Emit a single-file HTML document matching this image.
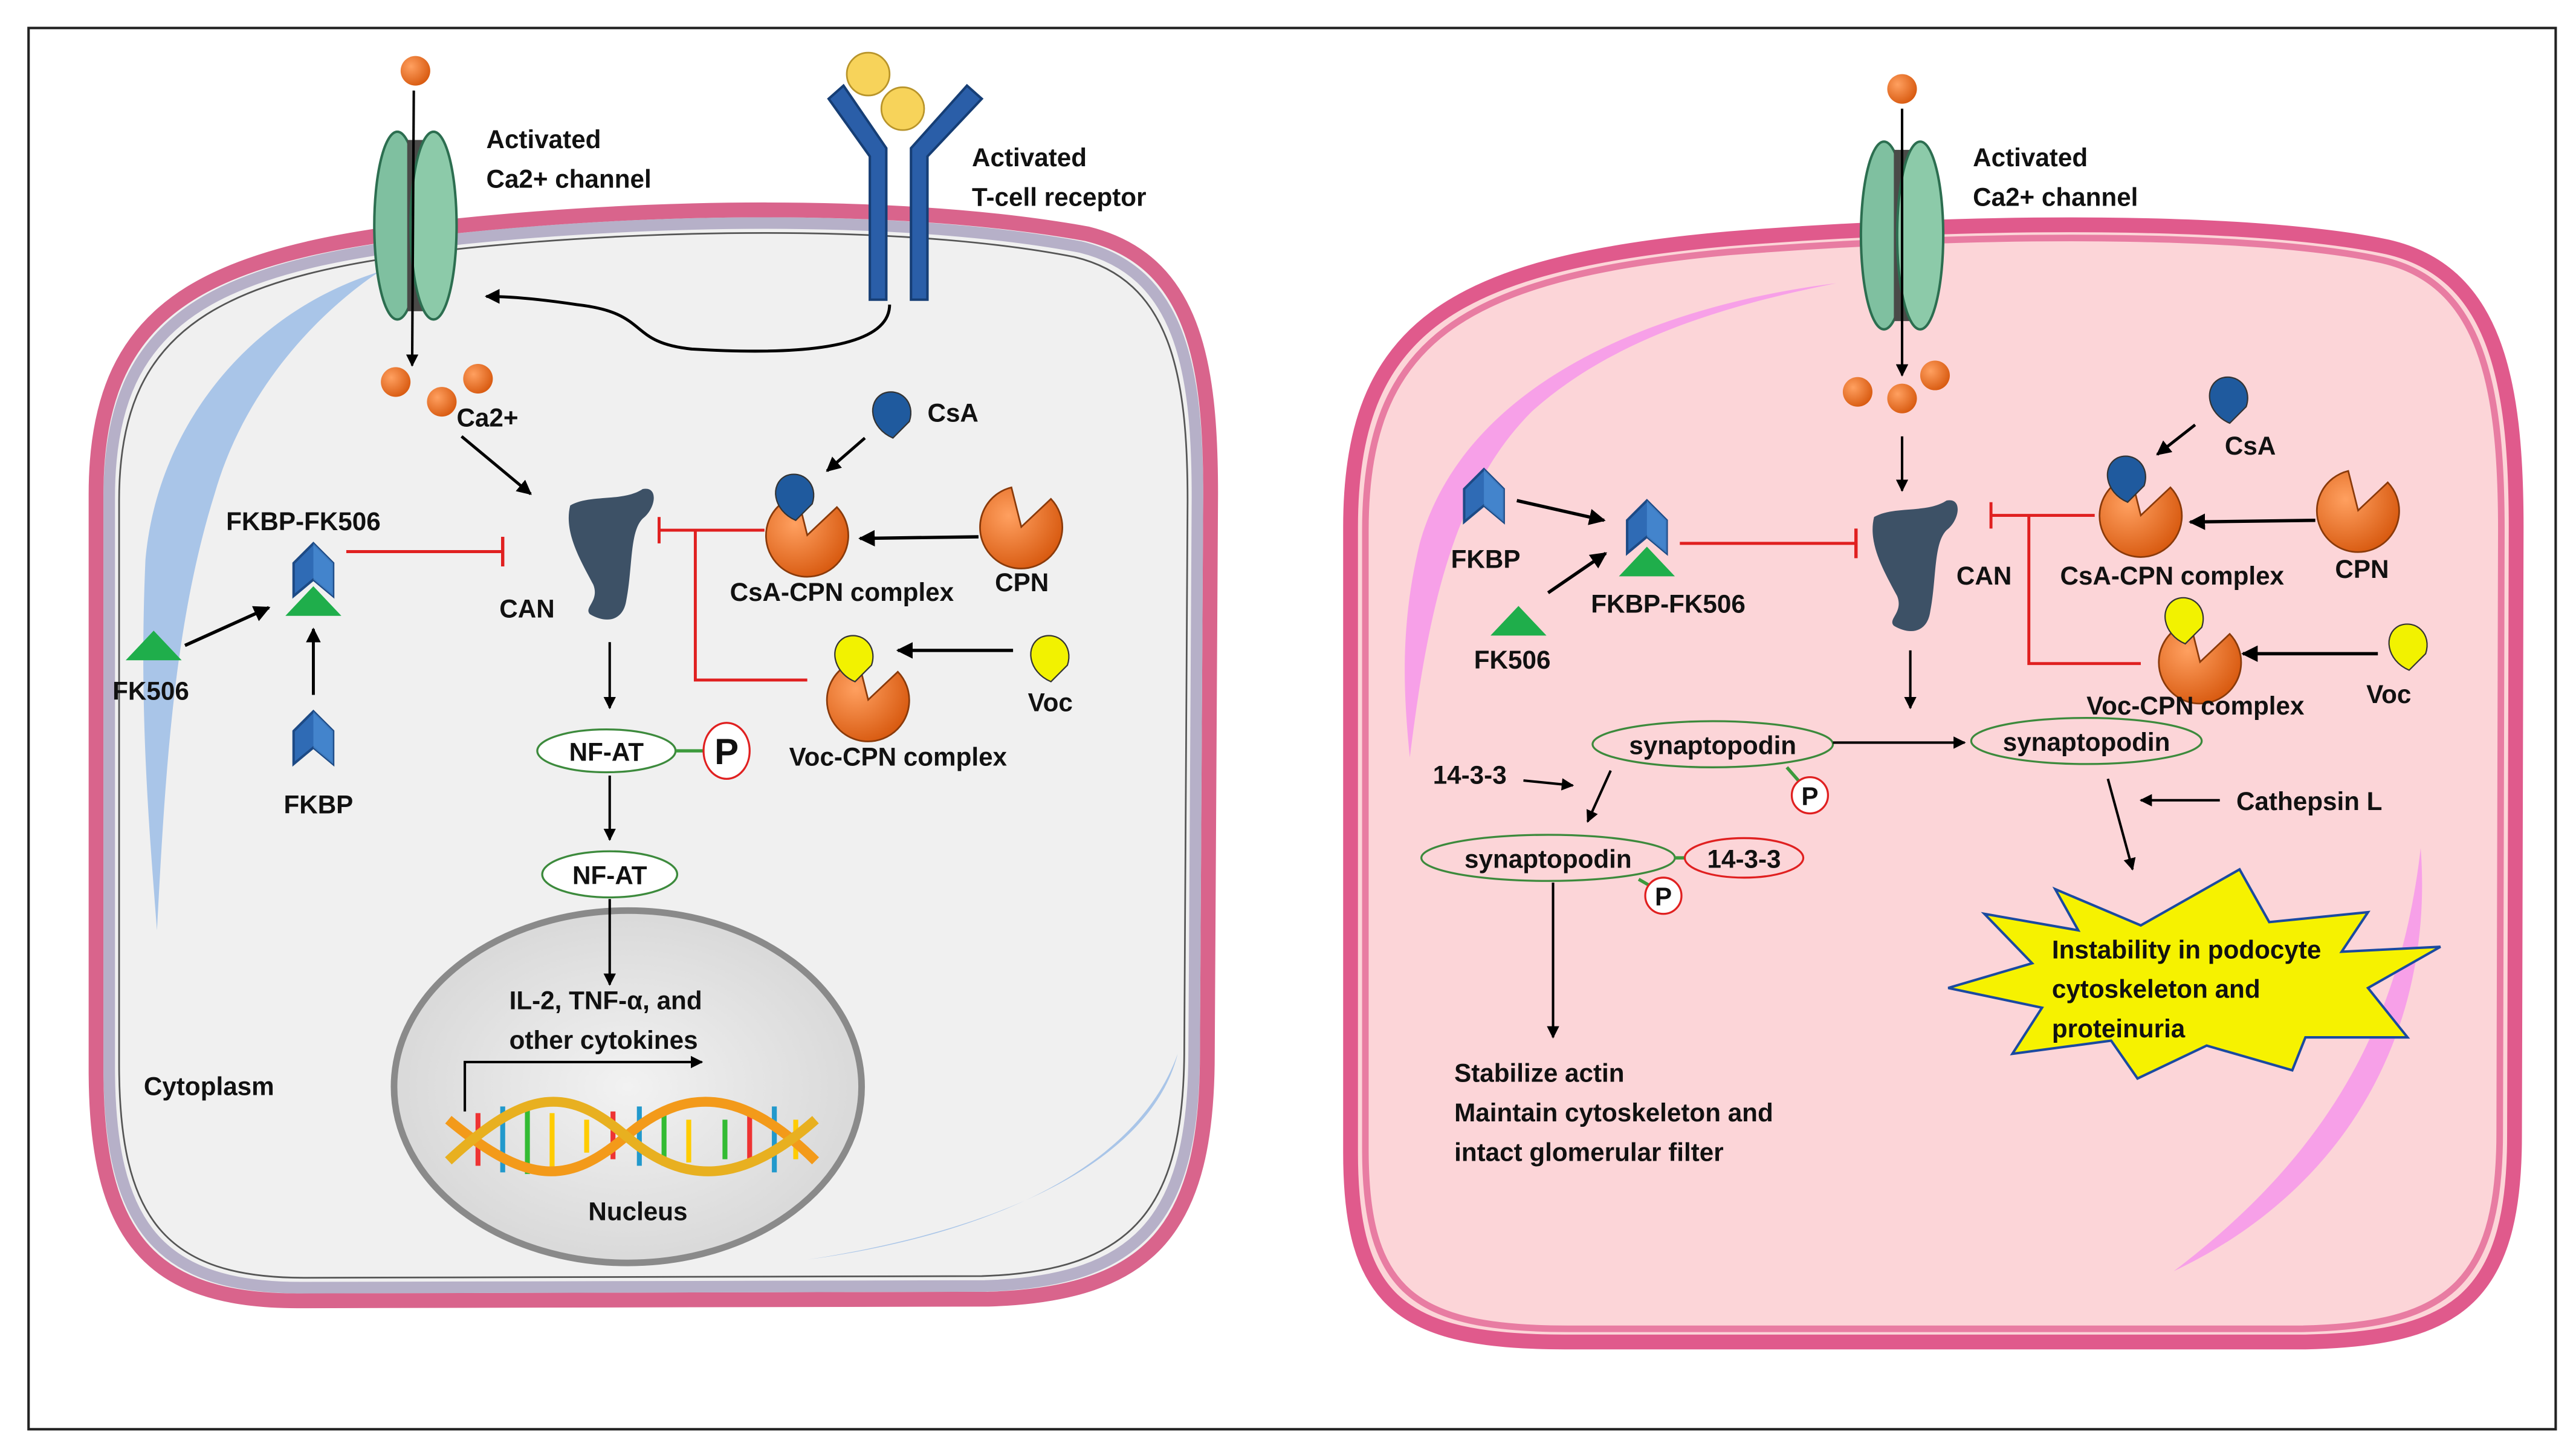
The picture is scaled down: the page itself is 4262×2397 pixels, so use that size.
<!DOCTYPE html>
<html><head><meta charset="utf-8"><style>
html,body{margin:0;padding:0;background:#fff}
svg{display:block}
text{font-family:"Liberation Sans",sans-serif;font-weight:bold;font-size:15.5px;fill:#111}
</style></head><body>
<svg width="4262" height="2397" viewBox="0 0 1564 880" xmlns="http://www.w3.org/2000/svg">
<defs>
<marker id="a" viewBox="0 0 10 10" refX="9" refY="5" markerWidth="5" markerHeight="5" orient="auto"><path d="M0,0L10,5L0,10z" fill="#000"/></marker>
<radialGradient id="nuc" cx="0.5" cy="0.5" r="0.6"><stop offset="0" stop-color="#f2f2f2"/><stop offset="1" stop-color="#d4d4d4"/></radialGradient>
<radialGradient id="org" cx="0.35" cy="0.35" r="0.7"><stop offset="0" stop-color="#ffa060"/><stop offset="1" stop-color="#d85a10"/></radialGradient>
<g id="chev"><path d="M-12,12 L-12,-8 L0,-20 L12,-8 L12,12 L0,2 Z" fill="#2f6bb5" stroke="#1d4a85" stroke-width="1.5"/><path d="M0,-20 L0,2 L12,12 L12,-8Z" fill="#4b8fd6" opacity="0.7"/></g>
<g id="tri"><path d="M-17,8 L0,-10 L17,8Z" fill="#1fae4b"/></g>
<g id="pac"><path d="M0,0 L-6,-24 A25,25 0 1 0 18,-17 Z" fill="url(#org)" stroke="#8a3a0a" stroke-width="1"/></g>
<g id="drop"><path d="M0,14 C-14,8 -16,-8 -6,-13 C4,-17 14,-8 10,4 Z" fill="currentColor" stroke="#333" stroke-width="0.8"/></g>
<g id="chan"><ellipse cx="-11" cy="0" rx="14" ry="57" fill="#7fc0a0" stroke="#2c6e50" stroke-width="1.5"/><rect x="-5" y="-52" width="10" height="104" fill="#4a4a48"/><ellipse cx="11" cy="0" rx="14" ry="57" fill="#8ccaa9" stroke="#2c6e50" stroke-width="1.5"/></g>
<g id="can"><path d="M-22,-28 C-10,-35 10,-30 22,-38 C32,-40 30,-26 22,-20 C14,-12 16,10 12,30 C10,42 0,44 -10,38 C-14,34 -4,30 -8,20 C-16,5 -26,-12 -22,-28Z" fill="#3d5166"/></g>
</defs>
<rect x="17" y="17" width="1535" height="851" fill="#fff" stroke="#222" stroke-width="1.5"/>

<path d="M58,300 C58,180 130,150 300,135 C420,124 560,124 660,142 C725,158 735,220 735,300 L733,640 C733,745 700,786 600,789 L180,790 C90,790 58,750 58,650 Z" fill="#f0f0f0" stroke="#d9648c" stroke-width="9"/>
<path d="M66,302 C66,188 134,158 300,143 C420,132 560,132 656,150 C717,165 727,224 727,302 L725,638 C725,738 694,778 598,781 L182,782 C96,782 66,744 66,648 Z" fill="none" stroke="#b6b0c8" stroke-width="7"/>
<path d="M72,304 C72,194 138,164 300,149 C420,138 560,138 652,156 C711,170 721,228 721,304 L719,636 C719,732 690,772 596,775 L184,776 C100,776 72,740 72,646 Z" fill="none" stroke="#555" stroke-width="1"/>
<path d="M230,165 C150,190 95,260 88,340 C84,430 90,500 95,565 C100,470 105,380 130,300 C150,230 200,185 230,165Z" fill="#a9c5e8"/>
<path d="M490,765 C600,750 690,710 715,640 C700,700 620,745 490,765Z" fill="#a9c5e8"/>

<use href="#chan" x="252" y="137"/>
<circle cx="252" cy="43" r="9" fill="url(#org)"/>
<line x1="251" y1="55" x2="250" y2="222" stroke="#000" stroke-width="1.5" marker-end="url(#a)"/>
<circle cx="240" cy="232" r="9" fill="url(#org)"/><circle cx="268" cy="244" r="9" fill="url(#org)"/><circle cx="290" cy="230" r="9" fill="url(#org)"/>
<text x="277" y="259">Ca2+</text>
<text x="295" y="90">Activated</text><text x="295" y="114">Ca2+ channel</text>
<g fill="#2a5ea8" stroke="#163e75" stroke-width="1.5">
<path d="M503,60 L512,52 L538,90 L538,182 L528,182 L528,95 Z"/>
<path d="M596,60 L587,52 L553,90 L553,182 L563,182 L563,95 Z"/>
</g>
<circle cx="527" cy="45" r="13" fill="#f7d35a" stroke="#b8942a"/><circle cx="548" cy="66" r="13" fill="#f7d35a" stroke="#b8942a"/>
<text x="590" y="101">Activated</text><text x="590" y="125">T-cell receptor</text>
<path d="M540,185 C540,215 470,215 420,212 C380,208 395,190 350,185 C330,182 310,180 295,180" fill="none" stroke="#000" stroke-width="1.8" marker-end="url(#a)"/>
<line x1="280" y1="265" x2="322" y2="300" stroke="#000" stroke-width="1.8" marker-end="url(#a)"/>
<use href="#can" x="368" y="335"/>
<text x="303" y="375">CAN</text>
<text x="137" y="322">FKBP-FK506</text>
<use href="#chev" x="190" y="350"/><use href="#tri" x="190" y="366"/>
<line x1="210" y1="335" x2="305" y2="335" stroke="#e02020" stroke-width="1.8"/><line x1="305" y1="326" x2="305" y2="344" stroke="#e02020" stroke-width="2"/>
<use href="#tri" x="93" y="393"/><text x="68" y="425">FK506</text>
<line x1="112" y1="392" x2="163" y2="369" stroke="#000" stroke-width="2" marker-end="url(#a)"/>
<use href="#chev" x="190" y="452"/><text x="172" y="494">FKBP</text>
<line x1="190" y1="422" x2="190" y2="382" stroke="#000" stroke-width="1.8" marker-end="url(#a)"/>
<use href="#drop" x="542" y="252" style="color:#1f5a9e"/><text x="563" y="256">CsA</text>
<line x1="525" y1="266" x2="502" y2="286" stroke="#000" stroke-width="1.8" marker-end="url(#a)"/>
<use href="#pac" x="490" y="325"/><use href="#drop" x="483" y="302" style="color:#1f5a9e"/>
<text x="443" y="365">CsA-CPN complex</text>
<use href="#pac" x="620" y="320"/><text x="604" y="359">CPN</text>
<line x1="594" y1="326" x2="522" y2="327" stroke="#000" stroke-width="2" marker-end="url(#a)"/>
<path d="M464,322 H400 M400,314 V330 M422,322 V413 H490" fill="none" stroke="#e02020" stroke-width="1.8"/>
<use href="#pac" x="527" y="425"/><use href="#drop" x="519" y="400" style="color:#f2f200"/>
<text x="479" y="465">Voc-CPN complex</text>
<use href="#drop" x="638" y="400" style="color:#f2f200"/><text x="624" y="432">Voc</text>
<line x1="615" y1="395" x2="545" y2="395" stroke="#000" stroke-width="2" marker-end="url(#a)"/>
<line x1="370" y1="390" x2="370" y2="430" stroke="#000" stroke-width="1.5" marker-end="url(#a)"/>
<ellipse cx="368" cy="456" rx="42" ry="13" fill="#fff" stroke="#3c8a3c" stroke-width="1.2"/><text x="368" y="462" text-anchor="middle">NF-AT</text>
<line x1="410" y1="456" x2="427" y2="456" stroke="#3c9a3c" stroke-width="2"/>
<ellipse cx="441" cy="456" rx="14" ry="17" fill="#fff" stroke="#e02020" stroke-width="1.2"/><text x="441" y="464" text-anchor="middle" style="font-size:22px">P</text>
<line x1="370" y1="471" x2="370" y2="510" stroke="#000" stroke-width="1.5" marker-end="url(#a)"/>
<ellipse cx="370" cy="531" rx="41" ry="14" fill="#fff" stroke="#3c8a3c" stroke-width="1.2"/><text x="370" y="537" text-anchor="middle">NF-AT</text>
<ellipse cx="381" cy="660" rx="142" ry="107" fill="url(#nuc)" stroke="#8a8a8a" stroke-width="4"/>
<line x1="370" y1="546" x2="370" y2="598" stroke="#000" stroke-width="1.5" marker-end="url(#a)"/>
<text x="309" y="613">IL-2, TNF-α, and</text><text x="309" y="637">other cytokines</text>
<path d="M282,675 V645 H426" fill="none" stroke="#000" stroke-width="1.5" marker-end="url(#a)"/>
<g stroke-width="3">
<g stroke="#e33"><line x1="290" y1="676" x2="290" y2="708"/><line x1="372" y1="675" x2="372" y2="704"/><line x1="455" y1="676" x2="455" y2="708"/></g>
<g stroke="#29c"><line x1="305" y1="672" x2="305" y2="712"/><line x1="388" y1="672" x2="388" y2="708"/><line x1="470" y1="672" x2="470" y2="712"/></g>
<g stroke="#3b3"><line x1="320" y1="672" x2="320" y2="713"/><line x1="403" y1="675" x2="403" y2="708"/><line x1="440" y1="680" x2="440" y2="704"/></g>
<g stroke="#fc0"><line x1="335" y1="676" x2="335" y2="709"/><line x1="356" y1="680" x2="356" y2="700"/><line x1="418" y1="680" x2="418" y2="706"/><line x1="483" y1="680" x2="483" y2="704"/></g>
</g>
<path d="M272,680 C320,720 345,720 380,690 C415,660 450,660 495,705" fill="none" stroke="#f39a1a" stroke-width="6"/>
<path d="M272,705 C320,660 345,660 380,690 C415,720 450,720 495,680" fill="none" stroke="#e8b020" stroke-width="6"/>
<text x="357" y="741">Nucleus</text>
<text x="87" y="665">Cytoplasm</text>

<path d="M820,320 C820,200 880,160 1050,145 C1200,133 1370,133 1450,150 C1515,165 1528,230 1528,320 L1527,690 C1527,790 1490,813 1400,815 L950,815 C850,815 820,790 820,700 Z" fill="#fcd5d8" stroke="#e05a8c" stroke-width="9"/>
<path d="M829,322 C829,208 886,168 1050,153 C1200,141 1370,141 1447,158 C1507,172 1519,234 1519,322 L1518,688 C1518,782 1484,805 1398,807 L952,807 C858,807 829,784 829,698 Z" fill="none" stroke="#e87ca2" stroke-width="4"/>
<path d="M1115,172 C1010,185 890,230 862,330 C850,380 852,420 856,460 C866,380 880,300 930,250 C980,205 1050,185 1115,172Z" fill="#f7a0e8"/>
<path d="M1470,515 C1478,620 1430,720 1320,772 C1415,700 1458,620 1470,515Z" fill="#f7a0e8"/>
<use href="#chan" x="1155" y="143"/>
<circle cx="1155" cy="54" r="9" fill="url(#org)"/>
<line x1="1155" y1="66" x2="1155" y2="228" stroke="#000" stroke-width="1.5" marker-end="url(#a)"/>
<circle cx="1128" cy="238" r="9" fill="url(#org)"/><circle cx="1155" cy="242" r="9" fill="url(#org)"/><circle cx="1175" cy="228" r="9" fill="url(#org)"/>
<text x="1198" y="101">Activated</text><text x="1198" y="125">Ca2+ channel</text>
<line x1="1155" y1="265" x2="1155" y2="298" stroke="#000" stroke-width="1.5" marker-end="url(#a)"/>
<use href="#can" x="1160" y="342"/><text x="1188" y="355">CAN</text>
<use href="#chev" x="901" y="305"/><text x="881" y="345">FKBP</text>
<use href="#tri" x="922" y="378"/><text x="895" y="406">FK506</text>
<use href="#chev" x="1000" y="324"/><use href="#tri" x="1000" y="342"/>
<text x="966" y="372">FKBP-FK506</text>
<line x1="921" y1="304" x2="974" y2="316" stroke="#000" stroke-width="2" marker-end="url(#a)"/>
<line x1="940" y1="360" x2="975" y2="336" stroke="#000" stroke-width="2" marker-end="url(#a)"/>
<line x1="1020" y1="330" x2="1127" y2="330" stroke="#e02020" stroke-width="1.8"/><line x1="1127" y1="321" x2="1127" y2="339" stroke="#e02020" stroke-width="2"/>
<use href="#drop" x="1354" y="243" style="color:#1f5a9e"/><text x="1351" y="276">CsA</text>
<line x1="1333" y1="258" x2="1310" y2="276" stroke="#000" stroke-width="1.8" marker-end="url(#a)"/>
<use href="#pac" x="1300" y="313"/><use href="#drop" x="1292" y="291" style="color:#1f5a9e"/>
<text x="1251" y="355">CsA-CPN complex</text>
<use href="#pac" x="1432" y="310"/><text x="1418" y="351">CPN</text>
<line x1="1406" y1="316" x2="1330" y2="317" stroke="#000" stroke-width="2" marker-end="url(#a)"/>
<path d="M1272,313 H1209 M1209,305 V321 M1232,313 V403 H1300" fill="none" stroke="#e02020" stroke-width="1.8"/>
<use href="#pac" x="1336" y="402"/><use href="#drop" x="1327" y="377" style="color:#f2f200"/>
<text x="1267" y="434">Voc-CPN complex</text>
<use href="#drop" x="1463" y="393" style="color:#f2f200"/><text x="1437" y="427">Voc</text>
<line x1="1444" y1="397" x2="1362" y2="397" stroke="#000" stroke-width="2" marker-end="url(#a)"/>
<line x1="1160" y1="395" x2="1160" y2="430" stroke="#000" stroke-width="1.5" marker-end="url(#a)"/>
<ellipse cx="1040" cy="452" rx="73" ry="14" fill="none" stroke="#3c8a3c" stroke-width="1.2"/><text x="1040" y="458" text-anchor="middle">synaptopodin</text>
<line x1="1085" y1="466" x2="1092" y2="474" stroke="#3c9a3c" stroke-width="2"/>
<circle cx="1099" cy="483" r="11" fill="#fff" stroke="#e02020" stroke-width="1.2"/><text x="1099" y="489" text-anchor="middle">P</text>
<line x1="1113" y1="451" x2="1193" y2="451" stroke="#000" stroke-width="1.5" marker-end="url(#a)"/>
<ellipse cx="1267" cy="450" rx="70" ry="14" fill="none" stroke="#3c8a3c" stroke-width="1.2"/><text x="1267" y="456" text-anchor="middle">synaptopodin</text>
<text x="870" y="476">14-3-3</text>
<line x1="925" y1="474" x2="955" y2="477" stroke="#000" stroke-width="1.5" marker-end="url(#a)"/>
<line x1="978" y1="468" x2="964" y2="499" stroke="#000" stroke-width="1.5" marker-end="url(#a)"/>
<ellipse cx="940" cy="521" rx="77" ry="14" fill="none" stroke="#3c8a3c" stroke-width="1.2"/><text x="940" y="527" text-anchor="middle">synaptopodin</text>
<line x1="1017" y1="521" x2="1023" y2="521" stroke="#3c9a3c" stroke-width="2"/>
<ellipse cx="1059" cy="521" rx="36" ry="12" fill="none" stroke="#e02020" stroke-width="1.2"/><text x="1059" y="527" text-anchor="middle">14-3-3</text>
<line x1="995" y1="534" x2="1002" y2="538" stroke="#3c9a3c" stroke-width="2"/>
<circle cx="1010" cy="544" r="11" fill="#fff" stroke="#e02020" stroke-width="1.2"/><text x="1010" y="550" text-anchor="middle">P</text>
<line x1="943" y1="536" x2="943" y2="630" stroke="#000" stroke-width="1.5" marker-end="url(#a)"/>
<text x="883" y="657">Stabilize actin</text><text x="883" y="681">Maintain cytoskeleton and</text><text x="883" y="705">intact glomerular filter</text>
<line x1="1280" y1="473" x2="1295" y2="528" stroke="#000" stroke-width="1.5" marker-end="url(#a)"/>
<text x="1358" y="492">Cathepsin L</text>
<line x1="1348" y1="486" x2="1300" y2="486" stroke="#000" stroke-width="1.5" marker-end="url(#a)"/>
<polygon points="1248,540 1300,562 1360,528 1378,560 1438,554 1422,578 1482,575 1438,600 1462,630 1400,630 1392,650 1340,635 1298,655 1282,632 1222,640 1240,612 1183,600 1234,585 1205,555 1262,565" fill="#f6f200" stroke="#1a4aa0" stroke-width="1.5"/>
<text x="1246" y="582">Instability in podocyte</text><text x="1246" y="606">cytoskeleton and</text><text x="1246" y="630">proteinuria</text>
</svg>
</body></html>
